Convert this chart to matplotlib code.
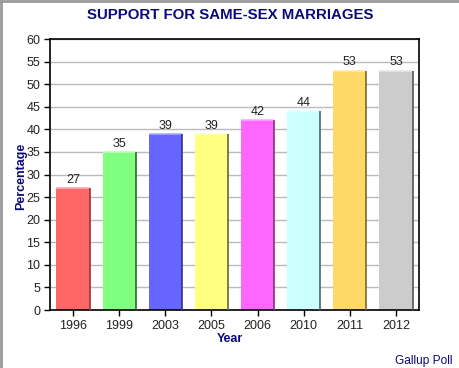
import matplotlib
matplotlib.use("Agg")
import matplotlib.pyplot as plt
from matplotlib.lines import Line2D

plt.rcParams["font.family"] = ["Liberation Sans", "DejaVu Sans"]

years = ["1996", "1999", "2003", "2005", "2006", "2010", "2011", "2012"]
support = [27, 35, 39, 39, 42, 44, 53, 53]
fills = ["#FF6666", "#80FF80", "#6666FF", "#FFFF80",
         "#FF66FF", "#CCFFFF", "#FFD966", "#CCCCCC"]
tops = ["#FFAAAA", "#C0FFC0", "#AAAAFF", "#FFFFC0",
        "#FFAAFF", "#E8FFFF", "#FFEBA0", "#E6E6E6"]
sides = ["#993333", "#336633", "#333380", "#666633",
         "#803380", "#4D6666", "#806633", "#555555"]
y_ticks = list(range(0, 61, 5))

NAVY = "#0A0A78"

fig = plt.figure(figsize=(4.6, 3.68), dpi=100)
ax = fig.add_axes([0.1087, 0.1576, 0.8022, 0.7364])

x = list(range(len(years)))
bars = ax.bar(x, support, width=0.72, color=fills, edgecolor="none", zorder=2)
for b, tc, sc in zip(bars, tops, sides):
    x0, x1, h = b.get_x(), b.get_x() + b.get_width(), b.get_height()
    ax.plot([x0, x1], [h, h], color=tc, lw=1.2, zorder=3, solid_capstyle="butt")
    ax.plot([x1, x1], [0, h], color=sc, lw=1.2, zorder=3, solid_capstyle="butt")
    ax.text(b.get_x() + b.get_width() / 2, h + 0.5, f"{h:.0f}",
            ha="center", va="bottom", fontsize=9, color="#222222")

ax.set_xlim(-0.5, len(years) - 0.5)
ax.set_ylim(0, 60)
ax.set_yticks(y_ticks)
ax.set_xticks(x)
ax.set_xticklabels(years)
ax.tick_params(axis="both", labelsize=9, length=4, width=1, colors="black",
               labelcolor="#222222", pad=3)
ax.yaxis.grid(True, color="#BBBBBB", lw=1, zorder=0)
ax.set_axisbelow(True)
for s in ax.spines.values():
    s.set_color("black")
    s.set_linewidth(1.2)

fig.text(0.5, 0.958, "SUPPORT FOR SAME-SEX MARRIAGES", ha="center", va="center",
         fontsize=10.8, fontweight="bold", color=NAVY)
fig.text(0.045, 0.52, "Percentage", ha="center", va="center", rotation=90,
         fontsize=9, fontweight="bold", color=NAVY)
fig.text(0.5, 0.08, "Year", ha="center", va="center",
         fontsize=9, fontweight="bold", color=NAVY)
fig.text(0.983, 0.02, "Gallup Poll", ha="right", va="center",
         fontsize=8.6, color=NAVY)

# gray frame on top and left edges
fig.add_artist(Line2D([0.002, 0.002], [0, 1], transform=fig.transFigure,
                      color="#999999", lw=2))
fig.add_artist(Line2D([0, 1], [0.997, 0.997], transform=fig.transFigure,
                      color="#999999", lw=2))

fig.savefig("out.png", dpi=100)
